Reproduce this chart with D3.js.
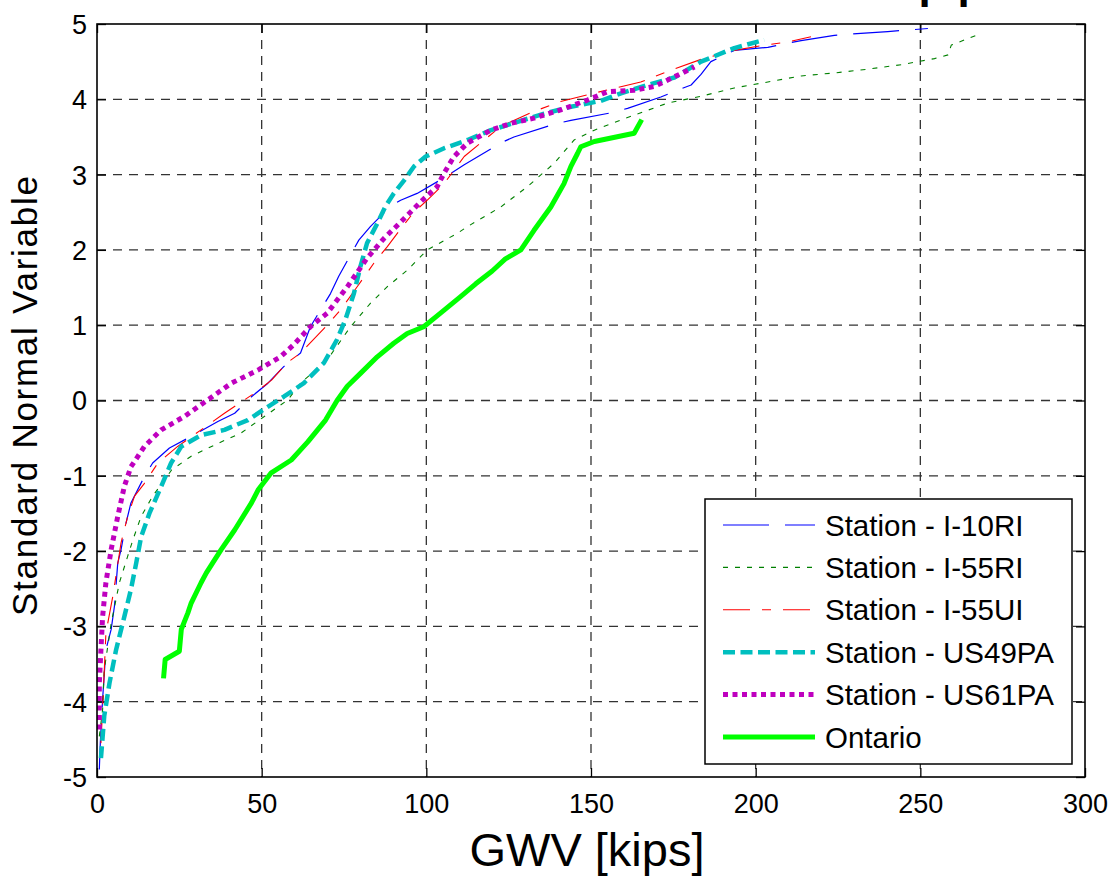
<!DOCTYPE html>
<html><head><meta charset="utf-8">
<script src="https://cdn.jsdelivr.net/npm/d3@7"></script>
<style>
html,body{margin:0;padding:0;background:#fff;}
text{font-family:"Liberation Sans",Arial,sans-serif;fill:#000;}
</style></head>
<body><svg id="chart" width="1114" height="878"></svg>
<script>
// ---- data (GWV [kips], standard normal variable) ----
const xTicks = [0, 50, 100, 150, 200, 250, 300];
const yTicks = [-5, -4, -3, -2, -1, 0, 1, 2, 3, 4, 5];
const seriesNames = ["Station - I-10RI", "Station - I-55RI", "Station - I-55UI", "Station - US49PA", "Station - US61PA", "Ontario"];

const i10ri = [[0.7,-4.90],[1.0,-4.55],[1.7,-3.97],[2.7,-3.31],[4.3,-3.04],[5.3,-2.73],[6.3,-2.16],[7.3,-1.98],[8.8,-1.63],[10.3,-1.36],[14.4,-1.01],[16.9,-0.83],[22.0,-0.63],[27.6,-0.50],[36.7,-0.28],[41.8,-0.17],[46.9,0.05],[51.9,0.23],[56.7,0.45],[61.8,0.63],[64.8,0.98],[70.9,1.42],[73.4,1.65],[79.5,2.13],[83.0,2.31],[89.1,2.58],[92.2,2.66],[97.2,2.75],[104.3,2.93],[111.5,3.13],[122.6,3.42],[126.6,3.50],[138.8,3.67],[143.9,3.72],[156.0,3.82],[161.1,3.88],[171.2,4.03],[176.8,4.13],[180.4,4.19],[183.4,4.33],[186.4,4.50],[193.5,4.65],[203.7,4.69],[213.8,4.78],[223.9,4.85],[240.1,4.90],[252.3,4.94]];
const i55ri = [[0.7,-4.46],[1.7,-4.11],[2.2,-3.58],[4.3,-2.96],[6.8,-2.42],[9.3,-2.07],[10.9,-1.85],[13.4,-1.54],[16.9,-1.27],[22.7,-0.92],[28.6,-0.74],[36.7,-0.57],[43.8,-0.43],[50.9,-0.21],[58.0,0.01],[61.8,0.23],[69.9,0.54],[77.0,0.98],[83.0,1.29],[88.1,1.51],[94.2,1.73],[100.3,2.0],[109.4,2.22],[112.5,2.31],[122.6,2.57],[130.7,2.84],[138.8,3.15],[144.9,3.46],[151.0,3.59],[163.1,3.79],[173.3,3.95],[183.4,4.04],[193.5,4.15],[203.7,4.23],[213.8,4.31],[223.9,4.35],[234.0,4.40],[244.2,4.46],[254.3,4.54],[258.4,4.59],[259.4,4.72],[267.0,4.85]];
const i55ui = [[1.2,-4.55],[2.0,-3.8],[2.7,-3.09],[4.8,-2.60],[7.3,-1.89],[9.3,-1.54],[11.4,-1.27],[14.4,-1.10],[18.5,-0.83],[24.5,-0.61],[31.6,-0.39],[38.7,-0.17],[47.9,0.10],[53.0,0.27],[57.7,0.50],[61.8,0.63],[69.9,1.00],[73.9,1.20],[79.0,1.51],[84.0,1.82],[88.1,2.04],[92.2,2.28],[96.2,2.50],[100.3,2.66],[105.4,2.88],[111.5,3.24],[122.6,3.64],[132.7,3.84],[140.8,3.97],[148.9,4.06],[165.1,4.23],[173.3,4.37],[183.4,4.53],[193.5,4.65],[202.6,4.72],[209.7,4.76],[216.8,4.83]];
const us49pa = [[1.2,-4.75],[2.2,-4.19],[3.8,-3.75],[5.8,-3.31],[8.3,-2.87],[10.3,-2.51],[11.9,-2.16],[13.4,-1.81],[15.9,-1.50],[19.5,-1.14],[22.5,-0.83],[25.6,-0.61],[31.6,-0.46],[38.7,-0.39],[45.8,-0.26],[50.6,-0.12],[56.7,0.05],[62.8,0.23],[68.9,0.50],[72.9,0.81],[75.4,1.07],[78.0,1.42],[80.0,1.78],[82.0,2.09],[85.1,2.35],[87.6,2.58],[90.1,2.75],[93.2,2.92],[96.3,3.11],[99.8,3.24],[105.4,3.35],[112.5,3.46],[119.6,3.59],[127.7,3.70],[135.8,3.81],[143.9,3.90],[153.0,3.98],[159.1,4.08],[167.2,4.19],[175.3,4.29],[183.4,4.50],[193.5,4.68],[202.6,4.79]];
const us61pa = [[0.7,-4.37],[0.7,-3.75],[1.2,-3.31],[1.7,-2.87],[2.7,-2.42],[4.3,-1.98],[6.3,-1.54],[8.3,-1.14],[10.3,-0.88],[14.4,-0.61],[19.5,-0.39],[26.6,-0.21],[33.7,0.01],[40.8,0.23],[49.1,0.41],[55.7,0.58],[59.7,0.74],[64.8,0.98],[69.9,1.16],[76.0,1.51],[82.0,1.89],[87.1,2.15],[92.2,2.37],[98.3,2.64],[103.3,2.84],[105.4,3.02],[108.4,3.24],[112.5,3.42],[119.6,3.59],[125.6,3.68],[132.7,3.75],[140.8,3.86],[148.9,3.99],[155.0,4.10],[163.1,4.12],[169.2,4.17],[176.3,4.32],[181.4,4.43]];
const ontario = [[20.2,-3.69],[20.7,-3.44],[25.0,-3.33],[25.6,-3.04],[27.6,-2.82],[28.6,-2.69],[31.6,-2.42],[33.2,-2.29],[37.7,-1.98],[41.8,-1.72],[46.9,-1.36],[48.9,-1.19],[52.9,-0.96],[59.0,-0.79],[64.0,-0.55],[69.4,-0.26],[72.9,0.0],[76.0,0.19],[80.0,0.36],[85.1,0.58],[90.1,0.76],[94.2,0.89],[99.2,0.98],[104.3,1.16],[110.4,1.38],[115,1.55],[120,1.72],[124,1.88],[128.7,2.0],[132.7,2.26],[137.8,2.57],[141.8,2.88],[143.9,3.11],[145.9,3.28],[146.9,3.37],[151.0,3.44],[163.1,3.55],[165.4,3.73]];

// ---- styles ----
const styles = [
  {data: i10ri, color: "#0000ff", width: 1.2, dash: "46,16"},
  {data: i55ri, color: "#008000", width: 1.1, dash: "5,7"},
  {data: i55ui, color: "#ff0000", width: 1.1, dash: "27,12,9,12"},
  {data: us49pa, color: "#00bfbf", width: 4.5, dash: "12,5.5"},
  {data: us61pa, color: "#bf00bf", width: 5, dash: "5,4.5"},
  {data: ontario, color: "#00ff00", width: 5, dash: null}
];

const svg = d3.select("#chart");
svg.append("rect").attr("width",1114).attr("height",878).attr("fill","#fff");

const L = 97, R = 1085, T = 24, B = 777;
const x = d3.scaleLinear().domain([0,300]).range([L,R]);
const y = d3.scaleLinear().domain([-5,5]).range([B,T]);

// partial (cut-off at the top edge in the original) title
svg.append("text").attr("x",918.5).attr("y",-2)
  .attr("font-size",44).attr("font-weight","bold").attr("letter-spacing",12)
  .text("pp");

// grid
const grid = svg.append("g");
grid.selectAll("line.gx").data(xTicks.slice(1,-1)).join("line")
  .attr("x1",d=>x(d)).attr("x2",d=>x(d)).attr("y1",T).attr("y2",B)
  .attr("stroke","#333").attr("stroke-width",1.3).attr("stroke-dasharray","9,7");
grid.selectAll("line.gy").data(yTicks.slice(1,-1)).join("line")
  .attr("y1",d=>y(d)).attr("y2",d=>y(d)).attr("x1",L).attr("x2",R)
  .attr("stroke","#333").attr("stroke-width",1.3).attr("stroke-dasharray","9,7");

// axes with inward ticks
const fs = 27;
const fmt = d => String(d);
const axB = svg.append("g").attr("transform",`translate(0,${B})`)
  .call(d3.axisBottom(x).tickValues(xTicks).tickSize(-9).tickPadding(17).tickFormat(fmt));
const axT = svg.append("g").attr("transform",`translate(0,${T})`)
  .call(d3.axisTop(x).tickValues(xTicks).tickSize(-9).tickFormat(""));
const axL = svg.append("g").attr("transform",`translate(${L},0)`)
  .call(d3.axisLeft(y).tickValues(yTicks).tickSize(-9).tickPadding(10).tickFormat(fmt));
const axRt = svg.append("g").attr("transform",`translate(${R},0)`)
  .call(d3.axisRight(y).tickValues(yTicks).tickSize(-9).tickFormat(""));
[axB,axT,axL,axRt].forEach(a=>{
  a.select(".domain").remove();
  a.selectAll(".tick line").attr("stroke","#000").attr("stroke-width",1.3);
  a.selectAll("text").attr("font-size",fs).attr("font-family","Liberation Sans, Arial, sans-serif").attr("fill","#000");
});
axB.selectAll("text").attr("dy","0.71em");
axL.selectAll("text").attr("dy","0.35em");

// clip
svg.append("clipPath").attr("id","clip").append("rect")
  .attr("x",L).attr("y",T).attr("width",R-L).attr("height",B-T);

const line = d3.line().x(d=>x(d[0])).y(d=>y(d[1]));
const plot = svg.append("g").attr("clip-path","url(#clip)");
styles.forEach(s=>{
  plot.append("path").datum(s.data).attr("d",line)
    .attr("fill","none").attr("stroke",s.color).attr("stroke-width",s.width)
    .attr("stroke-dasharray",s.dash).attr("stroke-linejoin","round");
});

// frame
svg.append("rect").attr("x",L).attr("y",T).attr("width",R-L).attr("height",B-T)
  .attr("fill","none").attr("stroke","#000").attr("stroke-width",1.6);

// axis labels
svg.append("text").attr("x",587).attr("y",866).attr("text-anchor","middle")
  .attr("font-size",47).text("GWV [kips]");
svg.append("text").attr("transform","translate(37,396) rotate(-90)").attr("text-anchor","middle")
  .attr("font-size",35).attr("textLength",440).attr("lengthAdjust","spacing")
  .text("Standard Normal Variable");

// legend
const lg = svg.append("g");
lg.append("rect").attr("x",705).attr("y",499).attr("width",367).attr("height",265)
  .attr("fill","#fff").attr("stroke","#000").attr("stroke-width",1.5);
const rowY = d3.scaleLinear().domain([0,5]).range([525,737]);
styles.forEach((s,i)=>{
  lg.append("line").attr("x1",723).attr("x2",815).attr("y1",rowY(i)).attr("y2",rowY(i))
    .attr("stroke",s.color).attr("stroke-width",s.width).attr("stroke-dasharray",s.dash);
  lg.append("text").attr("x",825).attr("y",rowY(i)).attr("dy","0.36em")
    .attr("font-size",29.5).text(seriesNames[i]);
});
</script></body></html>
